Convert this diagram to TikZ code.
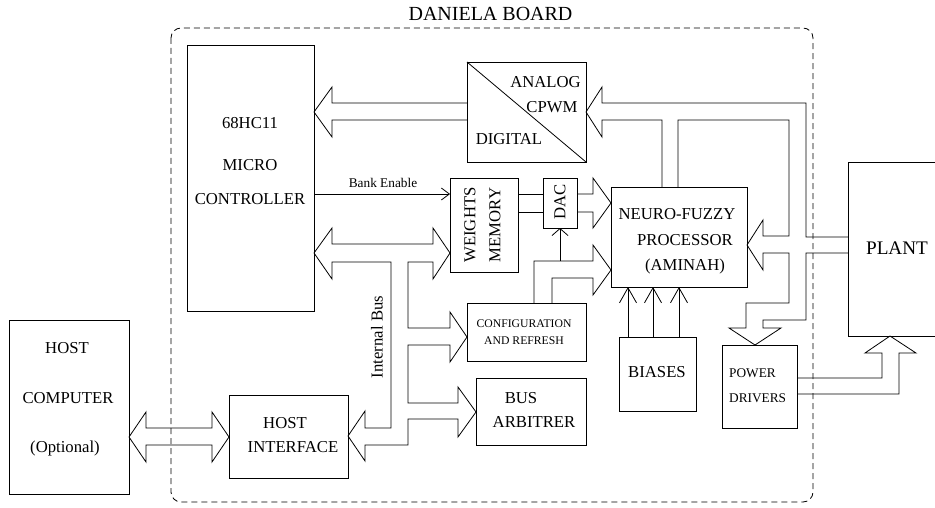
\documentclass[tikz,border=0pt]{standalone}
\usepackage{fontspec}
\setmainfont{Liberation Serif}
\usetikzlibrary{arrows.meta}
\begin{document}
\begin{tikzpicture}[x=1pt,y=-1pt,
  box/.style={draw, line width=0.9pt, inner sep=0pt, outer sep=0pt},
  txt/.style={inner sep=0pt, font=\fontsize{16.7}{20}\selectfont},
  small/.style={inner sep=0pt, font=\fontsize{13.3}{16}\selectfont},
  tiny/.style={inner sep=0pt, font=\fontsize{11.7}{14}\selectfont},
  big/.style={inner sep=0pt, font=\fontsize{19.2}{23}\selectfont},
  bus/.style={draw, line width=0.8pt, line join=miter},
  wire/.style={draw, line width=0.8pt},
  board/.style={draw, line width=0.8pt, dash pattern=on 6pt off 4pt, rounded corners=10pt},
  barbsmall/.style={-{Straight Barb[length=8pt,width=12pt]}},
  barbdac/.style={-{Straight Barb[length=7pt,width=16pt]}},
  barbbias/.style={-{Straight Barb[length=15pt,width=17pt]}}
]
\useasboundingbox (0,0) rectangle (935,508);

% board outline and title
\draw[board] (171,28) rectangle (813,502);
\node[inner sep=0pt, font=\fontsize{20}{24}\selectfont] (title) at (490.5,14) {DANIELA BOARD};

% blocks
\node[box, minimum width=127pt, minimum height=266pt] (mc) at (250.5,178) {};
\node[box, minimum width=119pt, minimum height=100pt] (adc) at (526.5,112) {};
\node[box, minimum width=68pt, minimum height=94pt] (wm) at (484,225) {};
\node[box, minimum width=34pt, minimum height=50pt] (dac) at (560,203) {};
\node[box, minimum width=136pt, minimum height=100pt] (nf) at (679,237) {};
\node[box, minimum width=119pt, minimum height=58pt] (cfg) at (526.5,332) {};
\node[box, minimum width=110pt, minimum height=67pt] (arb) at (531,411.5) {};
\node[box, minimum width=119pt, minimum height=83pt] (hi) at (288.5,436.5) {};
\node[box, minimum width=120pt, minimum height=174pt] (hc) at (69,407) {};
\node[box, minimum width=77pt, minimum height=74pt] (bias) at (657.5,374) {};
\node[box, minimum width=75pt, minimum height=83pt] (pd) at (759.5,386.5) {};
% plant runs off the right edge
\draw[line width=0.9pt] (940,162) -- (848,162) -- (848,336) -- (940,336);
\coordinate (plant) at (848,249);

\draw[line width=0.8pt] (adc.north west) -- (adc.south east);

% block texts
\node[txt] (mc1) at (250,123) {68HC11};
\node[txt] (mc2) at (250,165) {MICRO};
\node[txt] (mc3) at (250,199) {CONTROLLER};
\node[txt, anchor=east] (adc1) at (581,82) {ANALOG};
\node[txt] (adc2) at (552,107) {CPWM};
\node[txt] (adc3) at (509,139) {DIGITAL};
\node[txt, rotate=90] (wm1) at (470,225) {WEIGHTS};
\node[txt, rotate=90] (wm2) at (495,225) {MEMORY};
\node[txt, rotate=90] (dac1) at (560,202) {DAC};
\node[txt] (nf1) at (677,214) {NEURO-FUZZY};
\node[txt] (nf2) at (685,240) {PROCESSOR};
\node[txt] (nf3) at (685,266) {(AMINAH)};
\node[tiny] (cfg1) at (524,324) {CONFIGURATION};
\node[tiny] (cfg2) at (524,341) {AND REFRESH};
\node[txt] (arb1) at (521,398) {BUS};
\node[txt] (arb2) at (534,422) {ARBITRER};
\node[txt] (hi1) at (285,423) {HOST};
\node[txt] (hi2) at (293,447) {INTERFACE};
\node[txt] (hc1) at (67,348) {HOST};
\node[txt] (hc2) at (68,398) {COMPUTER};
\node[txt] (hc3) at (65,448) {(Optional)};
\node[txt] (bias1) at (657,372) {BIASES};
\node[small, anchor=west] (pd1) at (729,373) {POWER};
\node[small, anchor=west] (pd2) at (729,398) {DRIVERS};
\node[big] (plant1) at (897,248) {PLANT};
\node[txt, rotate=90] (ibus) at (377,337) {Internal Bus};

% bank enable
\draw[wire, barbsmall] (mc.east |- 0,194) -- (wm.west |- 0,194);
\node[small] (be) at (383,183) {Bank Enable};

% memory to DAC
\draw[wire] (wm.east |- 0,194) -- (dac.west |- 0,194);
\draw[wire] (wm.east |- 0,212) -- (dac.west |- 0,212);

% DAC to processor
\path[bus] (577,194) -- (593,194) -- (593,178) -- (611,203) -- (593,228) -- (593,212) -- (577,212);

% configuration to processor and DAC
\path[bus] (534,303) -- (534,261) -- (593,261) -- (593,245) -- (611,270) -- (593,295) -- (593,278) -- (552,278) -- (552,303);
\draw[wire, barbdac] (560,261) -- (dac.south);

% biases to processor
\draw[wire, barbbias] (628,337) -- (628,287);
\draw[wire, barbbias] (653,337) -- (653,287);
\draw[wire, barbbias] (679,337) -- (679,287);

% converter to microcontroller
\path[bus] (467,103) -- (332,103) -- (332,87) -- (314,112) -- (332,137) -- (332,120) -- (467,120);

% plant bus to converter
\path[bus] (848,237) -- (806,237) -- (806,103) -- (602,103) -- (602,87) -- (586,112) -- (602,137) -- (602,120) -- (662,120) -- (662,187);

% processor to converter, plant bus to processor, processor to power drivers
\path[bus] (678,187) -- (678,120) -- (789,120) -- (789,236) -- (763,236) -- (763,220) -- (747,245) -- (763,270) -- (763,253) -- (789,253) -- (789,303) -- (746,303) -- (746,328) -- (729,328) -- (755,345) -- (781,328) -- (763,328) -- (763,320) -- (806,320) -- (806,253) -- (848,253);

% power drivers to plant
\path[bus] (797,378) -- (882,378) -- (882,353) -- (865,353) -- (890,336) -- (916,353) -- (899,353) -- (899,394) -- (797,394);

% internal bus
\path[bus] (365,428) -- (391,428) -- (391,262) -- (332,262) -- (332,279) -- (314,253) -- (332,228) -- (332,244) -- (433,244) -- (433,228) -- (450,253) -- (433,279) -- (433,262) -- (408,262) -- (408,328) -- (450,328) -- (450,312) -- (467,337) -- (450,362) -- (450,345) -- (408,345) -- (408,403) -- (458,403) -- (458,387) -- (476,412) -- (458,437) -- (458,419) -- (408,419) -- (408,445) -- (365,445) -- (365,461) -- (348,436) -- (365,411) -- cycle;

% host computer link
\path[bus] (146,428) -- (212,428) -- (212,412) -- (229,437) -- (212,462) -- (212,445) -- (146,445) -- (146,462) -- (129,437) -- (146,412) -- cycle;

\end{tikzpicture}
\end{document}
